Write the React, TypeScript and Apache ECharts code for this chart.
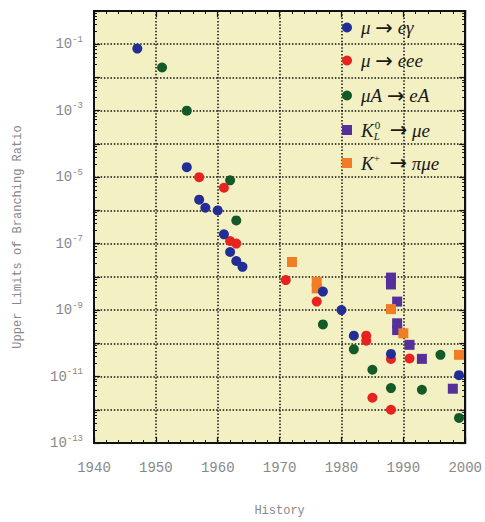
import React, { useEffect, useRef } from "react";
import * as echarts from "echarts";

// Data: [year, upper limit of branching ratio]
const muEGamma: [number, number][] = [
  [1947, 7.4e-2], [1955, 2e-5], [1957, 2.1e-6], [1958, 1.2e-6], [1960, 1e-6],
  [1961, 1.9e-7], [1962, 5.6e-8], [1963, 3e-8], [1964, 2e-8], [1977, 3.6e-9],
  [1980, 1e-9], [1982, 1.7e-10], [1988, 4.8e-11], [1999, 1.1e-11],
];
const muEEE: [number, number][] = [
  [1957, 1e-5], [1961, 4.8e-6], [1962, 1.2e-7], [1963, 1e-7], [1971, 8e-9],
  [1976, 1.8e-9], [1984, 1.7e-10], [1984, 1.2e-10], [1985, 2.3e-12],
  [1988, 3.4e-11], [1988, 1e-12], [1991, 3.5e-11],
];
const muAeA: [number, number][] = [
  [1951, 2e-2], [1955, 1e-3], [1962, 8e-6], [1963, 5e-7], [1977, 3.7e-10],
  [1982, 6.6e-11], [1985, 1.6e-11], [1988, 4.5e-12], [1993, 4e-12],
  [1996, 4.5e-11], [1999, 5.7e-13],
];
const kLmuE: [number, number][] = [
  [1988, 9.5e-9], [1988, 5.9e-9], [1989, 1.8e-9], [1989, 4e-10], [1989, 2.5e-10],
  [1991, 9e-11], [1993, 3.4e-11], [1998, 4.3e-12],
];
const kPlusPiMuE: [number, number][] = [
  [1972, 2.8e-8], [1976, 7e-9], [1976, 4.5e-9], [1988, 1.07e-9], [1990, 2e-10],
  [1999, 4.5e-11],
];

const seriesNames = ["μ → eγ", "μ → eee", "μA → eA", "K_L^0 → μe", "K+ → πμe"];
const legendRich: Record<string, string> = {
  "μ → eγ": "{f|μ }{a|→}{n| eγ}",
  "μ → eee": "{f|μ }{a|→}{n| eee}",
  "μA → eA": "{f|μA }{a|→}{n| eA}",
  "K_L^0 → μe": "{f|K}{sub|L}{sup|0}{n|  }{a|→}{n| μe}",
  "K+ → πμe": "{f|K}{sup|+}{n|  }{a|→}{n| πμe}",
};

const xMin = 1940;
const xMax = 2000;
const xInterval = 10;
const yMin = 1e-13;
const yMax = 1;

const MONO = "'Liberation Mono', 'DejaVu Sans Mono', monospace";
const SERIF = "'Liberation Serif', 'DejaVu Serif', serif";

export default function App() {
  const ref = useRef<HTMLDivElement>(null);

  useEffect(() => {
    if (!ref.current) return;
    const chart = echarts.init(ref.current, undefined, { renderer: "svg" });

    const axisLine = { show: true, lineStyle: { color: "#111", width: 2 } };
    const split = { show: true, lineStyle: { color: "#111", width: 1.5, type: [1.5, 1.8] as any } };

    const xCommon = {
      type: "value" as const,
      min: xMin,
      max: xMax,
      interval: xInterval,
      axisLine,
      axisTick: { show: true, inside: true, length: 6, lineStyle: { color: "#111", width: 1.2 } },
      minorTick: { show: true, splitNumber: 5, length: 3, lineStyle: { color: "#111", width: 1 } },
    };
    const yCommon = {
      type: "log" as const,
      logBase: 10,
      min: yMin,
      max: yMax,
      interval: 1,
      axisLine,
      axisTick: { show: true, inside: true, length: 6, lineStyle: { color: "#111", width: 1.2 } },
      minorTick: { show: true, splitNumber: 6, length: 3, lineStyle: { color: "#111", width: 1 } },
    };

    const rows = [28, 61, 96, 130, 163];
    const tok = { fontFamily: SERIF, fontStyle: "italic", fontSize: 19, color: "#1a1a1a", lineHeight: 22 };
    const legends = seriesNames.map((name, i) => ({
      data: [name],
      left: 342,
      top: rows[i] - 11,
      orient: "vertical" as const,
      padding: 0,
      itemWidth: 10,
      itemHeight: 10,
      itemGap: 0,
      selectedMode: false,
      formatter: (n: string) => legendRich[n],
      textStyle: {
        rich: {
          f: { ...tok, padding: [0, 0, 0, 4] },
          n: tok,
          a: { fontFamily: "'DejaVu Sans', sans-serif", fontSize: 21, color: "#1a1a1a", lineHeight: 22 },
          sup: { fontFamily: SERIF, fontStyle: "normal", fontSize: 11, color: "#1a1a1a", lineHeight: 12, verticalAlign: "top" },
          sub: { fontFamily: SERIF, fontStyle: "italic", fontSize: 11, color: "#1a1a1a", lineHeight: 12, verticalAlign: "bottom", width: 1 },
        },
      },
    }));

    const option: any = {
      animation: false,
      backgroundColor: "#ffffff",
      grid: {
        left: 94,
        right: 18,
        top: 11,
        bottom: 74,
        show: true,
        backgroundColor: "#f3f0c3",
        borderColor: "#111",
        borderWidth: 2,
      },
      legend: legends,
      xAxis: [
        {
          ...xCommon,
          position: "bottom",
          name: "History",
          nameLocation: "middle",
          nameGap: 62,
          nameTextStyle: { fontFamily: MONO, fontSize: 12, color: "#888" },
          splitLine: split,
          axisLabel: { fontFamily: MONO, fontSize: 14, color: "#888", margin: 18, formatter: (v: number) => String(v) },
        },
        {
          ...xCommon,
          position: "top",
          splitLine: { show: false },
          axisLabel: { show: false },
        },
      ],
      yAxis: [
        {
          ...yCommon,
          position: "left",
          name: "Upper Limits of Branching Ratio",
          nameLocation: "middle",
          nameGap: 70,
          nameTextStyle: { fontFamily: MONO, fontSize: 12, color: "#888", padding: [0, 20, 0, 0] },
          splitLine: split,
          axisLabel: {
            margin: 11,
            formatter: (v: number) => {
              const e = Math.round(Math.log10(v));
              if (e % 2 === 0) return "";
              return `{b|10}{s|${e}}`;
            },
            rich: {
              b: { fontFamily: MONO, fontSize: 14, color: "#888", lineHeight: 18 },
              s: { fontFamily: MONO, fontSize: 9, color: "#888", lineHeight: 10, verticalAlign: "top" },
            },
          },
        },
        {
          ...yCommon,
          position: "right",
          splitLine: { show: false },
          axisLabel: { show: false },
        },
      ],
      series: [
        { name: seriesNames[3], type: "scatter", symbol: "rect", symbolSize: 10, data: kLmuE, itemStyle: { color: "#55309a", opacity: 1 } },
        { name: seriesNames[4], type: "scatter", symbol: "rect", symbolSize: 10, data: kPlusPiMuE, itemStyle: { color: "#f07d23", opacity: 1 } },
        { name: seriesNames[1], type: "scatter", symbol: "circle", symbolSize: 10, data: muEEE, itemStyle: { color: "#e8231f", opacity: 1 } },
        { name: seriesNames[2], type: "scatter", symbol: "circle", symbolSize: 10, data: muAeA, itemStyle: { color: "#145a28", opacity: 1 } },
        { name: seriesNames[0], type: "scatter", symbol: "circle", symbolSize: 10, data: muEGamma, itemStyle: { color: "#232d96", opacity: 1 } },
      ],
    };

    chart.setOption(option);
    return () => chart.dispose();
  }, []);

  return <div ref={ref} style={{ width: 485, height: 522, position: "absolute", left: 0, top: 0 }} />;
}
